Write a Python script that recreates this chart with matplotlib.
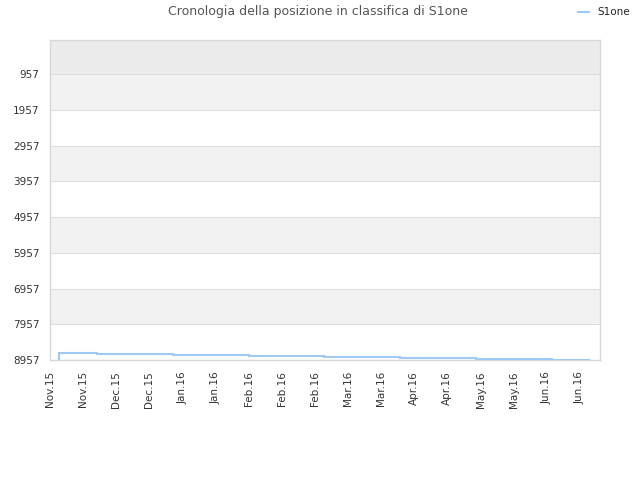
import matplotlib
matplotlib.use("Agg")
import matplotlib.pyplot as plt
import matplotlib.dates as mdates
import numpy as np
import pandas as pd

# Data
dates = ["2015-11-13", "2015-11-13", "2015-11-29", "2015-12-31", "2016-02-01",
         "2016-03-04", "2016-04-05", "2016-05-07", "2016-06-08", "2016-06-24"]
ranks = [8957, 8760, 8788, 8816, 8844, 8872, 8900, 8924, 8944, 8944]
y_ticks = [957, 1957, 2957, 3957, 4957, 5957, 6957, 7957, 8957]
tick_start = "2015-11-09"
n_xticks = 17
series_name = "S1one"
title = "Cronologia della posizione in classifica di S1one"

d = pd.to_datetime(dates)
xt = pd.date_range(tick_start, periods=n_xticks, freq="14D")
month_it = {1: "Jan", 2: "Feb", 3: "Mar", 4: "Apr", 5: "May", 6: "Jun",
            7: "Jul", 8: "Aug", 9: "Sep", 10: "Oct", 11: "Nov", 12: "Dec"}
xlabels = [f"{month_it[t.month]}.{t.strftime('%y')}" for t in xt]

fig = plt.figure(figsize=(6.4, 4.8), dpi=100)
ax = fig.add_axes([50/640, 1-360/480, 550/640, 320/480])

ymin_top = 1
ax.set_ylim(8957, ymin_top)
ax.set_xlim(pd.Timestamp(tick_start), pd.Timestamp("2016-06-28 12:00"))

# alternating bands
band_edges = [ymin_top] + y_ticks
for i in range(len(band_edges) - 1):
    lo, hi = band_edges[i], band_edges[i + 1]
    idx_from_bottom = len(band_edges) - 2 - i
    if i == 0:
        col = "#ececec"
    elif idx_from_bottom % 2 == 1:
        col = "#f2f2f2"
    else:
        col = "#ffffff"
    ax.axhspan(lo, hi, color=col, zorder=0, lw=0)

for yv in y_ticks:
    ax.axhline(yv, color="#dedede", lw=0.8, zorder=1)

ax.step(d, ranks, where="post", color="#9ecaf3", lw=1.5, zorder=3,
        label=series_name, solid_joinstyle="miter")

ax.set_yticks(y_ticks)
ax.set_yticklabels([str(v) for v in y_ticks], fontsize=7.5, color="#333333")
ax.set_xticks(xt)
ax.set_xticklabels(xlabels, rotation=90, fontsize=7.5, color="#333333")
ax.tick_params(axis="y", length=0, pad=7.5)
ax.tick_params(axis="x", length=0, pad=8)

for s in ["top", "right", "left", "bottom"]:
    ax.spines[s].set_color("#d8d8d8")
    ax.spines[s].set_linewidth(1)

fig.text(318/640, 1-12/480, title, ha="center", va="center",
         fontsize=9, color="#555555")
leg = fig.legend(loc="upper right", bbox_to_anchor=(0.995, 1.0), frameon=False,
                 fontsize=7.5, handlelength=1.0, borderaxespad=0.3,
                 handletextpad=0.8)
for t in leg.get_texts():
    t.set_color("#222222")

fig.savefig("out.png", dpi=100)
